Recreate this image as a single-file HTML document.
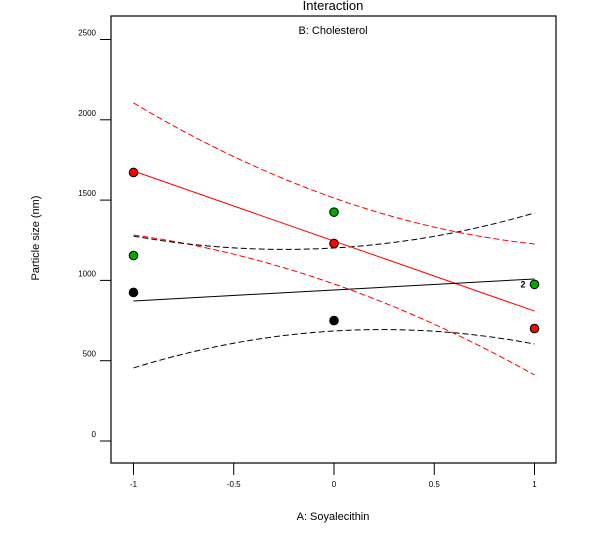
<!DOCTYPE html>
<html><head><meta charset="utf-8"><style>body{margin:0;background:#fff}svg{display:block;font-family:"Liberation Sans",sans-serif}</style></head>
<body>
<svg id="c" width="612" height="535">
<rect x="111" y="16" width="445" height="447" fill="#fff" stroke="#000" stroke-width="1.2"/>
<text x="333" y="10" font-size="13" text-anchor="middle">Interaction</text>
<text x="333" y="34" font-size="11" text-anchor="middle">B: Cholesterol</text>
<text x="333" y="520" font-size="11" text-anchor="middle">A: Soyalecithin</text>
<text x="39" y="238" font-size="11" text-anchor="middle" transform="rotate(-90 39 238)">Particle size (nm)</text>
<g id="g"></g>
</svg>
<script>
const xTicks=[-1,-0.5,0,0.5,1];
const xTickLabels=["-1","-0.5","0","0.5","1"];
const yTicks=[0,500,1000,1500,2000,2500];
const redLine=[1681,809];
const redUpper=[2105,1513,1227];
const redLower=[1283,978,411];
const blackLine=[872,1009];
const blackUpper=[1276,1202,1420];
const blackLower=[455,685,604];
const redPts=[[-1,1672],[0,1230],[1,700]];
const greenPts=[[-1,1155],[0,1425],[1,975]];
const blackPts=[[-1,925],[0,750]];
const X=v=>334+v*200.5;
const Y=v=>441-v*0.1606;
const NS="http://www.w3.org/2000/svg",g=document.getElementById('g');
function mk(t,a){const e=document.createElementNS(NS,t);for(const k in a)e.setAttribute(k,a[k]);g.appendChild(e);return e;}
xTicks.forEach((t,i)=>{let l=mk('line',{x1:X(t),x2:X(t),y1:463,y2:475,stroke:'#000'});


let tx=mk('text',{x:X(t),y:487,'font-size':8,'text-anchor':'middle'});tx.textContent=xTickLabels[i];

});
yTicks.forEach(t=>{let l=mk('line',{x1:100,x2:111,y1:Y(t),y2:Y(t),stroke:'#000'});


let tx=mk('text',{x:96,y:Y(t)-4,'font-size':8,'text-anchor':'end'});tx.textContent=t;

});
function quad(v,x){const a=v[0],b=v[1],c=v[2];return b+(c-a)/2*x+((a+c)/2-b)*x*x;}
function curve(v,col,name){let d='';for(let i=0;i<=40;i++){const x=-1+i/20;d+=(i?'L':'M')+X(x)+' '+Y(quad(v,x));}
const p=mk('path',{d:d,fill:'none',stroke:col,'stroke-width':1,'stroke-dasharray':'6 3'});

}
function line(v,col,name){const p=mk('line',{x1:X(-1),y1:Y(v[0]),x2:X(1),y2:Y(v[1]),stroke:col,'stroke-width':1});

}
curve(redUpper,'#f00','red-upper-ci');curve(redLower,'#f00','red-lower-ci');
curve(blackUpper,'#000','black-upper-ci');curve(blackLower,'#000','black-lower-ci');
line(redLine,'#f00','red-line');line(blackLine,'#000','black-line');
function pts(a,col,name){a.forEach(p=>{const c=mk('circle',{cx:X(p[0]),cy:Y(p[1]),r:4.3,fill:col,stroke:'#000','stroke-width':1});

});}
pts(redPts,'#f00','red-point');pts(greenPts,'#0a0','green-point');pts(blackPts,'#000','black-point');
const lb=mk('text',{x:X(1)-14,y:Y(greenPts[2][1])+3,'font-size':9,'font-weight':'bold'});lb.textContent='2';


</script>
</body></html>
